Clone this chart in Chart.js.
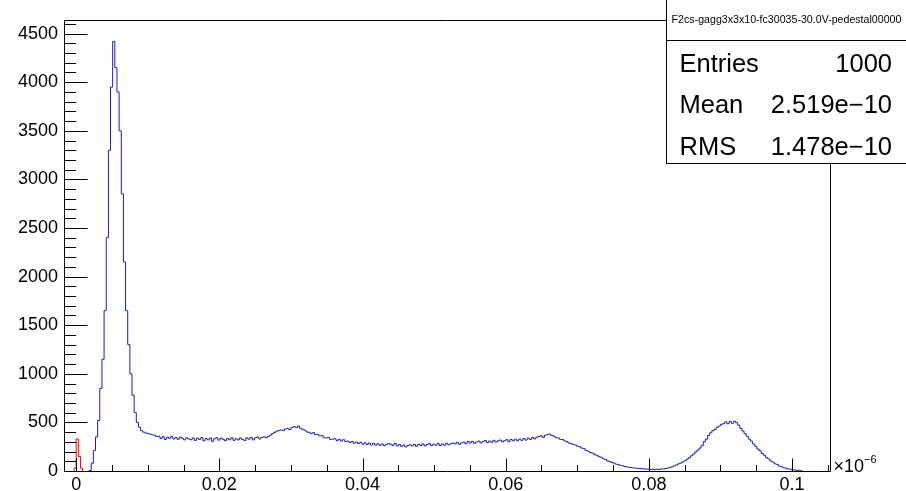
<!DOCTYPE html>
<html>
<head>
<meta charset="utf-8">
<script src="https://cdn.jsdelivr.net/npm/chart.js@4.4.1/dist/chart.umd.min.js"></script>
<style>
    html, body { margin: 0; padding: 0; background: #fff; }
    canvas { display: block; }
</style>
</head>
<body>
<canvas id="histChart" width="906" height="491"></canvas>
<script>
// histogram binning (x in units of 1e-6)
const binWidth = 0.0003;
const blueStart = 0.0018;
const redStart = -0.0003;

// blue histogram, counts per bin
const blueCounts = [
    5, 80, 210, 350, 520, 850, 1150, 1650, 2400, 3300,
    3950, 4420, 4150, 3900, 3500, 2850, 2150, 1650, 1300, 1000,
    780, 600, 500, 450, 415, 400, 390, 385,
    380, 372, 368, 355, 358, 335, 352, 325, 348, 336, 355, 330,
    345, 326, 348, 336, 320, 342, 330, 322, 340, 315, 338, 325, 344, 310, 334, 320, 340, 305, 332, 342,
    318, 338, 326, 312, 335, 322, 342, 316, 332, 320, 340, 325, 314, 340, 328, 346, 320, 342, 350, 330,
    345, 352, 342, 356, 368, 385, 398, 410, 418, 422, 416, 432, 438, 425, 448, 458, 446, 462, 440, 428,
    420, 402, 398, 385, 395, 375, 376, 362, 364, 342, 340, 345, 325, 328, 332, 314, 325, 308, 322, 304,
    308, 294, 305, 286, 298, 282, 295, 276, 290, 272, 288, 268, 284, 266, 280, 264, 278, 260, 274, 282,
    276, 264, 285, 258, 272, 254, 268, 248, 262, 270, 258, 274, 254, 275, 262, 278, 258, 272, 282, 262,
    275, 265, 284, 262, 278, 266, 286, 270, 280, 288,
    278, 295, 275, 290, 298, 280, 304, 288, 305, 285, 298, 308, 290, 303, 314, 292, 308, 295, 316, 298,
    310, 318, 300, 312, 322, 302, 324, 310, 326, 312,
    328, 315, 334, 318, 338, 325, 344, 330, 348, 355, 362, 345, 368, 375, 380, 366, 358, 342, 340, 326,
    324, 310, 302, 288, 284, 272, 268, 255, 250, 236, 230, 212, 204, 190, 184, 168, 162, 146, 142, 126,
    120, 103, 98, 86, 82, 70, 66, 57, 53, 46, 43, 37, 36, 31, 31, 27, 27, 23, 23, 19,
    19, 15, 18, 14, 19, 15, 21, 21, 26, 29, 37, 43, 53, 61, 73, 81, 93, 104, 121, 137,
    156, 174, 196, 214, 236, 263, 302, 328, 366, 393, 416, 428, 450, 463, 480, 488, 506, 486, 510, 490,
    512, 498, 472, 438, 412, 383, 357, 328, 307, 278, 254, 226, 207, 180, 162, 138, 124, 103, 92, 74,
    66, 50, 44, 33, 30, 20, 20, 12, 12, 6, 8, 3
];

// red (pedestal) histogram
const redCounts = [30, 330, 150, 30];

// axes
const xMin = -0.0017;
const xMax = 0.1053;
const yMax = 4640;
const xTickLabels = [0, 0.02, 0.04, 0.06, 0.08, 0.1];
const yTickLabels = [0, 500, 1000, 1500, 2000, 2500, 3000, 3500, 4000, 4500];
const xMinorStep = 0.005;
const yMinorStep = 100;

// stats box
const statsTitle = 'F2cs-gagg3x3x10-fc30035-30.0V-pedestal00000';
const statsNames = ['Entries', 'Mean', 'RMS'];
const statsValues = ['1000', '2.519e\u221210', '1.478e\u221210'];

const FONT = '"Liberation Sans", Arial, Helvetica, sans-serif';

function histPoints(start, counts) {
    const pts = [{ x: start, y: 0 }];
    counts.forEach((c, i) => pts.push({ x: start + i * binWidth, y: c }));
    pts.push({ x: start + counts.length * binWidth, y: 0 });
    return pts;
}

const rootFrame = {
    id: 'rootFrame',
    afterDatasetsDraw(chart) {
        const ctx = chart.ctx;
        const area = chart.chartArea;
        const xs = chart.scales.x;
        const ys = chart.scales.y;
        const L = Math.round(area.left) + 0.5;
        const B = Math.round(area.bottom) + 0.5;
        const T = Math.round(area.top) + 0.5;
        const R = Math.round(area.right) + 0.5;

        ctx.save();
        ctx.strokeStyle = '#000';
        ctx.lineWidth = 1;
        ctx.beginPath();

        // y ticks, inward
        for (let v = 0; v <= yMax; v += yMinorStep) {
            const py = Math.round(ys.getPixelForValue(v)) + 0.5;
            const len = yTickLabels.includes(v) ? 23 : 11.5;
            ctx.moveTo(L, py);
            ctx.lineTo(L + len, py);
        }

        // x ticks, inward
        for (let k = Math.ceil(xMin / xMinorStep); k * xMinorStep <= xMax; k++) {
            const v = k * xMinorStep;
            const px = Math.round(xs.getPixelForValue(v)) + 0.5;
            const major = xTickLabels.some(t => Math.abs(t - v) < 1e-9);
            ctx.moveTo(px, B);
            ctx.lineTo(px, B - (major ? 13 : 6.5));
        }

        // frame
        ctx.moveTo(L, T);
        ctx.lineTo(R, T);
        ctx.lineTo(R, B);
        ctx.lineTo(L, B);
        ctx.closePath();
        ctx.stroke();

        // x axis exponent
        ctx.fillStyle = '#000';
        ctx.textBaseline = 'alphabetic';
        ctx.textAlign = 'left';
        ctx.font = '18px ' + FONT;
        ctx.fillText('\u00d710', R + 3, 472);
        const w = ctx.measureText('\u00d710').width;
        ctx.font = '11px ' + FONT;
        ctx.fillText('\u22126', R + 3 + w, 463);
        ctx.restore();
    },
    afterDraw(chart) {
        const ctx = chart.ctx;
        const left = 666.5;
        const right = 930;
        const bottom = 163.5;
        const divider = 40.5;

        ctx.save();
        ctx.fillStyle = '#fff';
        ctx.fillRect(left, -5, right - left, bottom + 5);
        ctx.strokeStyle = '#000';
        ctx.lineWidth = 1;
        ctx.strokeRect(left, -5, right - left, bottom + 5);
        ctx.beginPath();
        ctx.moveTo(left, divider);
        ctx.lineTo(906, divider);
        ctx.stroke();

        ctx.fillStyle = '#000';
        ctx.textBaseline = 'middle';
        ctx.textAlign = 'center';
        ctx.font = '10px ' + FONT;
        const tw = ctx.measureText(statsTitle).width;
        ctx.font = (10 * 230 / tw).toFixed(2) + 'px ' + FONT;
        ctx.fillText(statsTitle, 786.5, 20.5);

        ctx.textBaseline = 'alphabetic';
        ctx.font = '25.5px ' + FONT;
        const baselines = [71.7, 113.3, 155];
        statsNames.forEach((name, i) => {
            ctx.textAlign = 'left';
            ctx.fillText(name, 679.5, baselines[i]);
            ctx.textAlign = 'right';
            ctx.fillText(statsValues[i], 892, baselines[i]);
        });
        ctx.restore();
    }
};

function renderChart() {
    const ctx = document.getElementById('histChart').getContext('2d');
    new Chart(ctx, {
        type: 'line',
        data: {
            datasets: [{
                data: histPoints(blueStart, blueCounts),
                borderColor: 'rgb(28, 28, 175)',
                borderWidth: 1,
                stepped: true,
                fill: false
            }, {
                data: histPoints(redStart, redCounts),
                borderColor: 'rgb(255, 0, 0)',
                borderWidth: 1,
                stepped: true,
                fill: false
            }]
        },
        options: {
            responsive: false,
            animation: false,
            devicePixelRatio: 1,
            parsing: false,
            layout: { padding: { left: 0, top: 20, right: 76, bottom: 0 } },
            elements: { point: { radius: 0 }, line: { tension: 0 } },
            plugins: {
                legend: { display: false },
                tooltip: { enabled: false }
            },
            scales: {
                x: {
                    type: 'linear',
                    min: xMin,
                    max: xMax,
                    grid: { display: false, drawTicks: false },
                    border: { display: false },
                    afterFit: s => { s.height = 20; },
                    afterBuildTicks: s => { s.ticks = xTickLabels.map(v => ({ value: v })); },
                    ticks: {
                        padding: 3,
                        maxRotation: 0,
                        autoSkip: false,
                        color: '#000',
                        font: { family: FONT, size: 18 },
                        callback: v => String(+v.toFixed(2))
                    }
                },
                y: {
                    type: 'linear',
                    min: 0,
                    max: yMax,
                    grid: { display: false, drawTicks: false },
                    border: { display: false },
                    afterFit: s => { s.width = 64; },
                    afterBuildTicks: s => { s.ticks = yTickLabels.map(v => ({ value: v })); },
                    ticks: {
                        padding: 6,
                        autoSkip: false,
                        color: '#000',
                        font: { family: FONT, size: 18 },
                        callback: v => String(v)
                    }
                }
            }
        },
        plugins: [rootFrame]
    });
}

document.addEventListener('DOMContentLoaded', function() {
    renderChart();
});
</script>
</body>
</html>
